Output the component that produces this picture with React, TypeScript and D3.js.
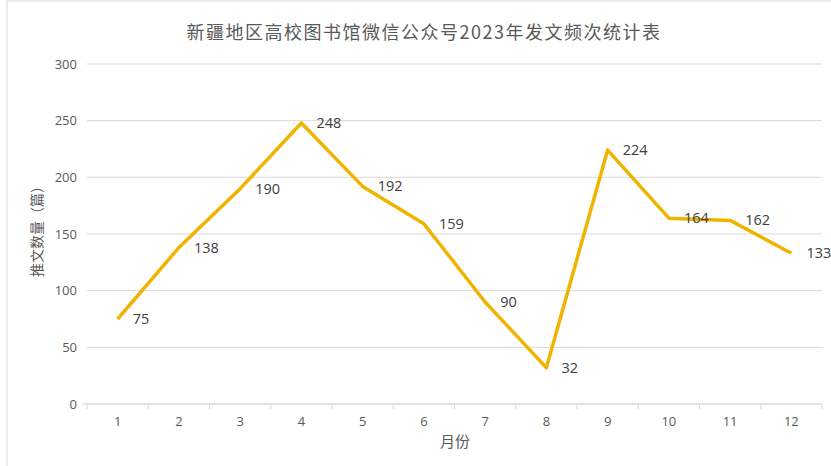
import React from "react";
import * as d3 from "d3";

const months = ["1", "2", "3", "4", "5", "6", "7", "8", "9", "10", "11", "12"];
const posts = [75, 138, 190, 248, 192, 159, 90, 32, 224, 164, 162, 133];
const yTicks = [0, 50, 100, 150, 200, 250, 300];
const title = "新疆地区高校图书馆微信公众号2023年发文频次统计表";
const yLabel = "推文数量（篇）";
const xLabel = "月份";

const W = 831, H = 466;
const left = 87, right = 822, top = 64, bottom = 404;
const font = "'Open Sans', 'Noto Sans CJK SC', sans-serif";
const cjk = "'Noto Sans CJK SC', sans-serif";

export default function App() {
  const x = d3.scaleBand<string>().domain(months).range([left, right]);
  const y = d3.scaleLinear().domain([0, 300]).range([bottom, top]);
  const cx = (m: string) => (x(m) as number) + x.bandwidth() / 2;
  const line = d3.line<number>().x((_, i) => cx(months[i])).y((d) => y(d));
  return (
    <svg width={W} height={H} style={{ position: "absolute", left: 0, top: 0, background: "#fff" }}>
      <line x1={7} x2={7} y1={0} y2={H} stroke="#d9d9d9" strokeWidth={1} />
      <line x1={7} x2={W} y1={1} y2={1} stroke="#d9d9d9" strokeWidth={1} />
      <text x={424} y={39} textAnchor="middle" fontFamily={cjk} fontSize={18} letterSpacing={1.5} fill="#595959">{title}</text>
      {yTicks.map((t) => (
        <g key={t}>
          {t > 0 && <line x1={left} x2={right} y1={y(t)} y2={y(t)} stroke="#d9d9d9" strokeWidth={1} />}
          <text x={77} y={y(t) + 4.5} textAnchor="end" fontFamily={font} fontSize={13} fill="#595959">{t}</text>
        </g>
      ))}
      <line x1={left} x2={right} y1={bottom} y2={bottom} stroke="#d9d9d9" strokeWidth={1.5} />
      <line x1={left - 5} x2={left} y1={bottom} y2={bottom} stroke="#d9d9d9" strokeWidth={1} />
      {months.map((m) => (
        <line key={"t" + m} x1={x(m)} x2={x(m)} y1={bottom} y2={bottom + 5} stroke="#d9d9d9" strokeWidth={1} />
      ))}
      <line x1={right} x2={right} y1={bottom} y2={bottom + 5} stroke="#d9d9d9" strokeWidth={1} />
      {months.map((m) => (
        <text key={"l" + m} x={cx(m)} y={426} textAnchor="middle" fontFamily={font} fontSize={13} fill="#595959">{m}</text>
      ))}
      <text x={455} y={447} textAnchor="middle" fontFamily={cjk} fontSize={15} fill="#595959">{xLabel}</text>
      <text transform={`translate(42,228) rotate(-90)`} textAnchor="middle" fontFamily={cjk} fontSize={14} fill="#595959">{yLabel}</text>
      <path d={line(posts) || ""} fill="none" stroke="#F0B400" strokeWidth={3.5} strokeLinejoin="round" />
      {posts.map((v, i) => (
        <text key={"d" + i} x={cx(months[i]) + 15} y={y(v) + 5} fontFamily={font} fontSize={14.5} fill="#404040">{v}</text>
      ))}
    </svg>
  );
}
